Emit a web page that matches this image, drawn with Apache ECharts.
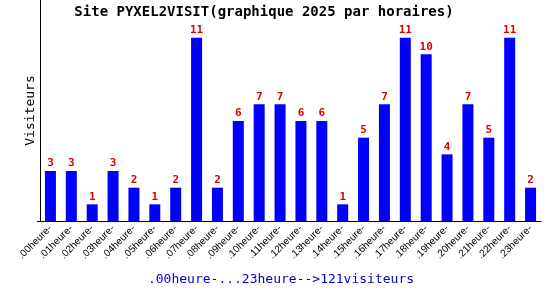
<!DOCTYPE html>
<html><head><meta charset="utf-8">
<script src="https://cdn.jsdelivr.net/npm/echarts@6/dist/echarts.min.js"></script>
<style>html,body{margin:0;padding:0;background:#fff}#c{width:550px;height:300px}</style>
</head><body><div id="c"></div>
<script>
var categories = ['.00heure-','.01heure-','.02heure-','.03heure-','.04heure-','.05heure-','.06heure-','.07heure-','.08heure-','.09heure-','.10heure-','.11heure-','.12heure-','.13heure-','.14heure-','.15heure-','.16heure-','.17heure-','.18heure-','.19heure-','.20heure-','.21heure-','.22heure-','.23heure-'];
var visitors = [3,3,1,3,2,1,2,11,2,6,7,7,6,6,1,5,7,11,10,4,7,5,11,2];
var titleText = 'Site PYXEL2VISIT(graphique 2025 par horaires)';
var yAxisName = 'Visiteurs';
var footerText = '.00heure-...23heure-->121visiteurs';

var chart = echarts.init(document.getElementById('c'), null, {renderer:'canvas'});
chart.setOption({
  animation:false,
  backgroundColor:'#fff',
  title:[{text:titleText,left:259,top:0,textAlign:'center',
    textStyle:{fontFamily:'DejaVu Sans Mono',fontSize:14,fontWeight:'bold',color:'#000'}},
    {text:footerText,left:276,top:268,textAlign:'center',
    textStyle:{fontFamily:'DejaVu Sans Mono',fontSize:13,fontWeight:'normal',color:'#0000cc'}}],
  grid:{left:40,right:9,top:0,bottom:79,containLabel:false},
  xAxis:{type:'category',data:categories,
    axisLine:{lineStyle:{color:'#000',width:1}},
    axisTick:{show:false},
    axisLabel:{rotate:45,interval:0,fontFamily:'Liberation Sans',fontSize:10,color:'#000',margin:6}},
  yAxis:{type:'value',min:0,max:13.26,name:yAxisName,nameLocation:'middle',nameGap:3,
    nameTextStyle:{fontFamily:'DejaVu Sans Mono',fontSize:13,color:'#000'},
    axisLine:{show:true,lineStyle:{color:'#000',width:1}},
    axisTick:{show:true,length:3,customValues:[0],lineStyle:{color:'#000'}},
    axisLabel:{show:false},splitLine:{show:false}},
  series:[{type:'bar',data:visitors,barWidth:11,
    itemStyle:{color:'#0000ff'},
    label:{show:true,position:'top',distance:2,color:'#dd0000',
      fontFamily:'DejaVu Sans Mono',fontSize:11,fontWeight:'bold'}}]
});
</script></body></html>
